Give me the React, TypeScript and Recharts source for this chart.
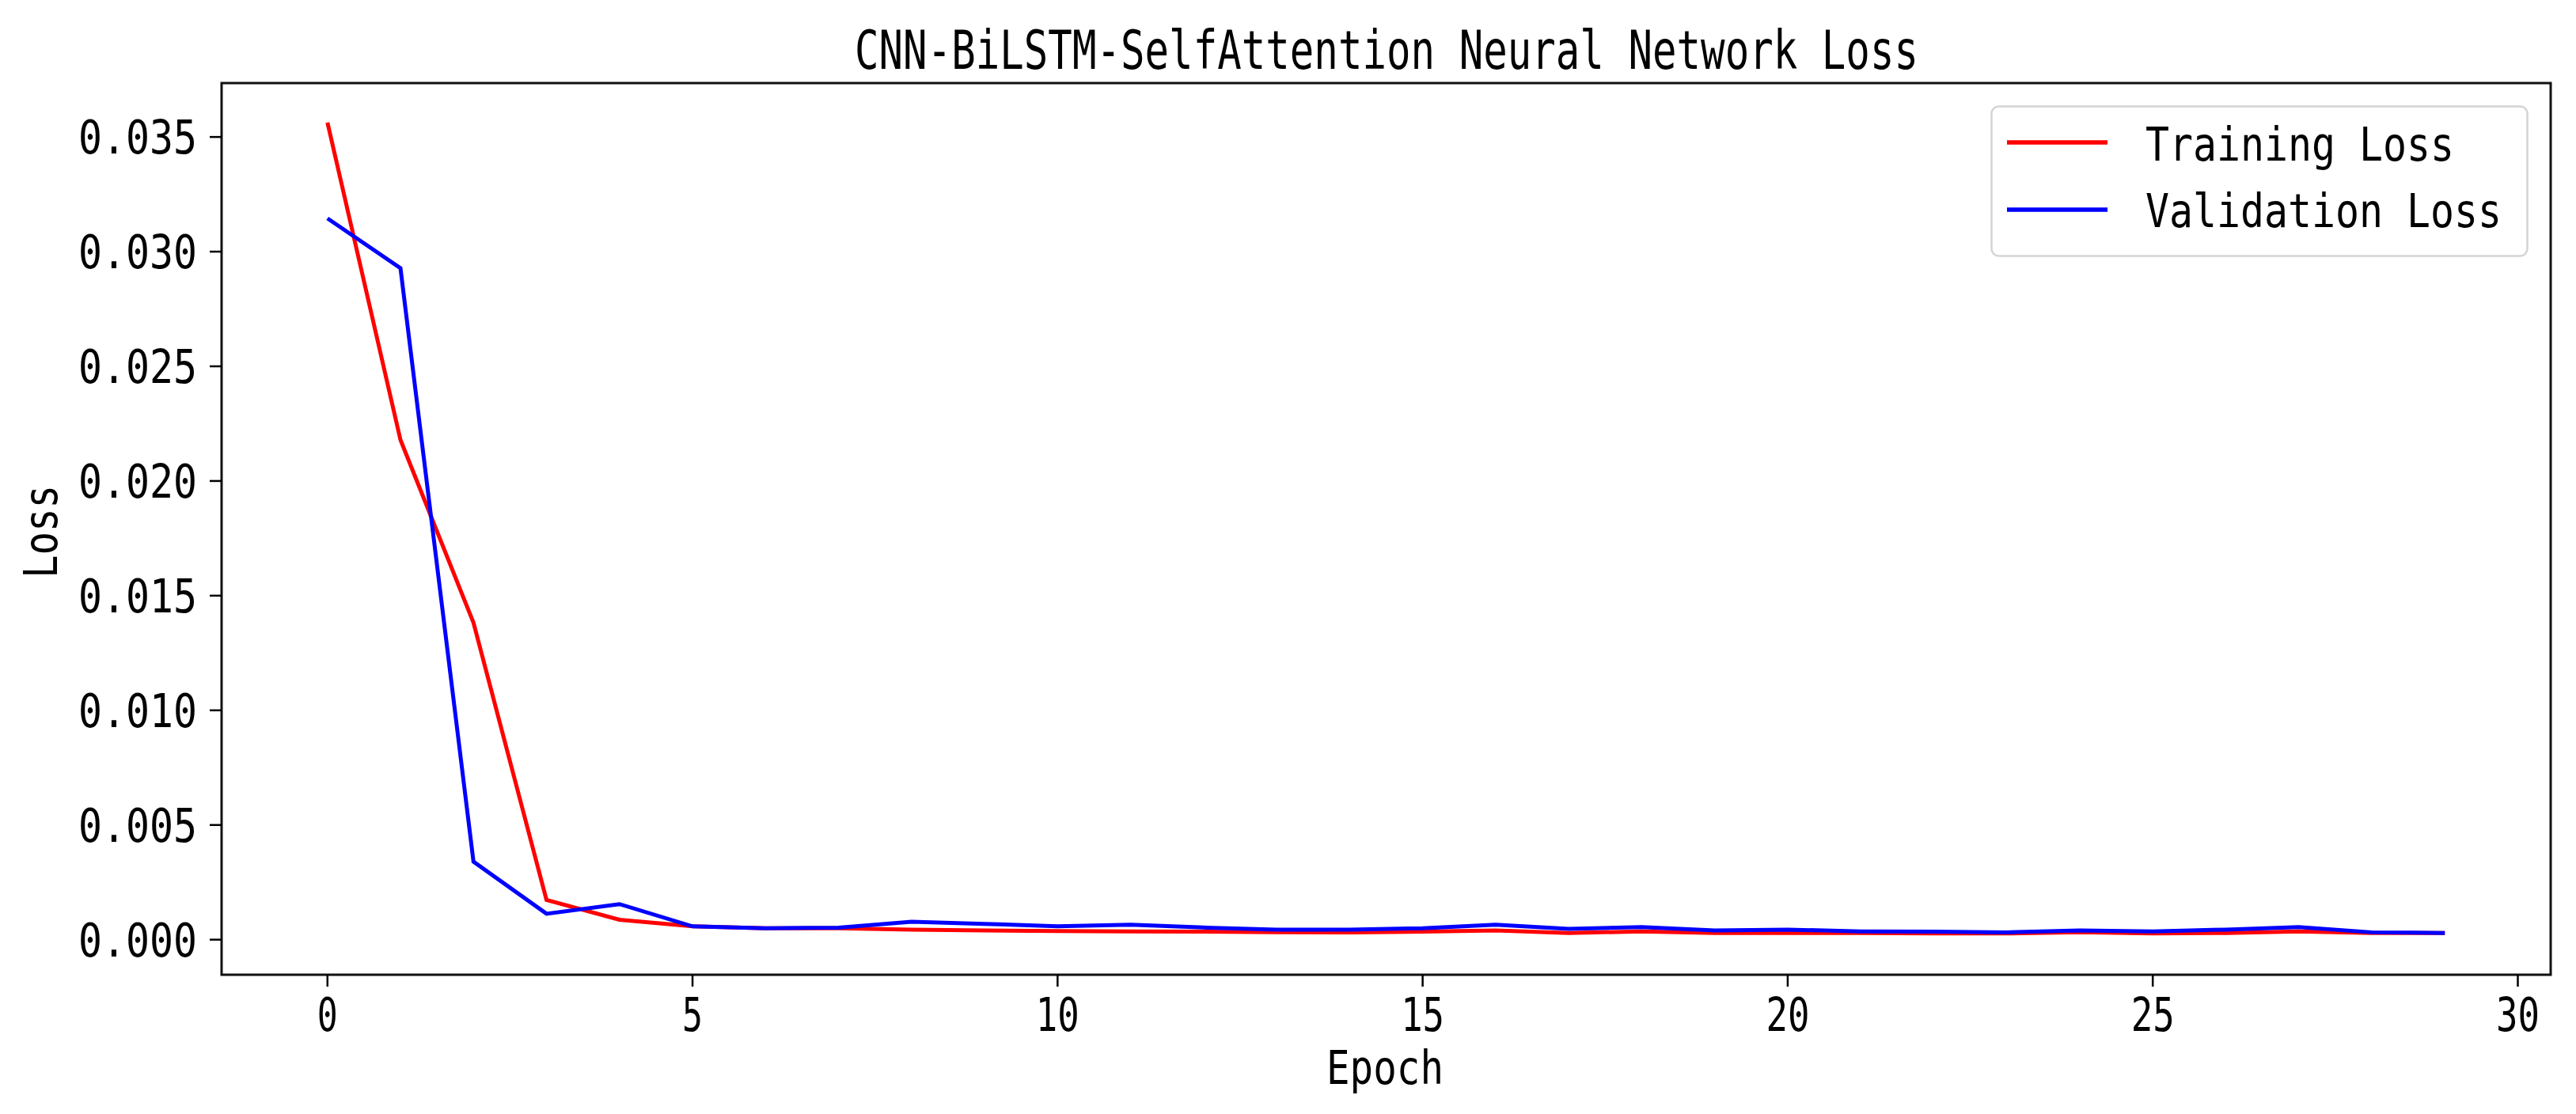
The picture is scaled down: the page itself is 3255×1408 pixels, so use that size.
import { LineChart, Line, XAxis, YAxis, ReferenceArea, Legend } from "recharts";

// values
const epochs = [0, 1, 2, 3, 4, 5, 6, 7, 8, 9, 10, 11, 12, 13, 14, 15, 16, 17, 18, 19, 20, 21, 22, 23, 24, 25, 26, 27, 28, 29];
const trainLoss = [
  0.03563, 0.02179, 0.01382, 0.00173, 0.00087, 0.00058, 0.0005, 0.0005, 0.00044, 0.0004,
  0.00038, 0.00036, 0.00035, 0.00032, 0.00032, 0.00035, 0.0004, 0.00029, 0.00036, 0.00029,
  0.00029, 0.00029, 0.00027, 0.00027, 0.00032, 0.00027, 0.00029, 0.00036, 0.00029, 0.00029,
];
const valLoss = [
  0.03145, 0.02928, 0.0034, 0.00113, 0.00155, 0.00058, 0.0005, 0.00052, 0.00078, 0.00069,
  0.00058, 0.00065, 0.00053, 0.00044, 0.00044, 0.0005, 0.00065, 0.00047, 0.00055, 0.0004,
  0.00044, 0.00036, 0.00035, 0.00032, 0.0004, 0.00036, 0.00044, 0.00055, 0.00032, 0.00029,
];
const xTicks = [0, 5, 10, 15, 20, 25, 30];
const yTicks = [0, 0.005, 0.01, 0.015, 0.02, 0.025, 0.03, 0.035];

const X_DOMAIN = [-1.45, 30.45];
const Y_DOMAIN = [-0.00153, 0.03735];

const FONT = "'DejaVu Sans Mono', monospace";
const CHAR_W = 29;

const data = epochs.map((e, i) => ({ epoch: e, train: trainLoss[i], val: valLoss[i] }));

function YTick(props: any) {
  const { x, y, payload } = props;
  const s = Number(payload.value).toFixed(3);
  return (
    <text x={x} y={y + 21} textAnchor="end" fontFamily={FONT} fontSize={59} fill="#000"
      textLength={150} lengthAdjust="spacingAndGlyphs">
      {s}
    </text>
  );
}

function XTick(props: any) {
  const { x, y, payload } = props;
  const s = String(payload.value);
  return (
    <text x={x} y={y + 43} textAnchor="middle" fontFamily={FONT} fontSize={59} fill="#000"
      textLength={s.length * CHAR_W - 3} lengthAdjust="spacingAndGlyphs">
      {s}
    </text>
  );
}

function LegendBox({ payload }: any) {
  // svg is wider than the frame so the text never gets clipped
  return (
    <svg width={740} height={192} style={{ display: "block", overflow: "visible" }}>
      <rect x={1.5} y={1.5} width={677} height={189} rx={9} fill="#fff" fillOpacity={0.8}
        stroke="#d4d4d4" strokeWidth={2.5} />
      {(payload || []).map((p: any, i: number) => (
        <g key={p.value}>
          <line x1={21} x2={148} y1={47 + i * 85} y2={47 + i * 85} stroke={p.color} strokeWidth={5.5} />
          <text x={196} y={70 + i * 84} fontFamily={FONT} fontSize={59} fill="#000"
            textLength={String(p.value).length * 30} lengthAdjust="spacingAndGlyphs">
            {p.value}
          </text>
        </g>
      ))}
    </svg>
  );
}

export default function App() {
  return (
    <div style={{ position: "absolute", left: 0, top: 0, width: 3255, height: 1408, background: "#fff" }}>
      <LineChart width={3255} height={1408} data={data}
        margin={{ top: 105, right: 32, bottom: 56, left: 40 }}>
        <XAxis dataKey="epoch" type="number" domain={X_DOMAIN} ticks={xTicks} allowDataOverflow
          height={120} axisLine={false} tickSize={15} tickMargin={13}
          tickLine={{ stroke: "#000", strokeWidth: 2.5 }} tick={<XTick />} interval={0} />
        <YAxis type="number" domain={Y_DOMAIN} ticks={yTicks} allowDataOverflow
          width={240} axisLine={false} tickSize={15} tickMargin={16}
          tickLine={{ stroke: "#000", strokeWidth: 2.5 }} tick={<YTick />} interval={0} />
        <ReferenceArea x1={X_DOMAIN[0]} x2={X_DOMAIN[1]} y1={Y_DOMAIN[0]} y2={Y_DOMAIN[1]}
          fill="none" fillOpacity={0} stroke="#111" strokeWidth={3} />
        <Line type="linear" dataKey="train" name="Training Loss" stroke="#ff0000" strokeWidth={5}
          dot={false} activeDot={false} isAnimationActive={false} />
        <Line type="linear" dataKey="val" name="Validation Loss" stroke="#0000ff" strokeWidth={5}
          dot={false} activeDot={false} isAnimationActive={false} />
        <Legend layout="vertical" align="center" verticalAlign="middle" content={<LegendBox />}
          wrapperStyle={{ position: "absolute", left: 2515, top: 133, width: 740, height: 192 }} />
      </LineChart>
      <svg width={3255} height={1408}
        style={{ position: "absolute", left: 0, top: 0, pointerEvents: "none" }}>
        <text x={1752} y={87} textAnchor="middle" fontFamily={FONT} fontSize={67} fill="#000"
          textLength={1344} lengthAdjust="spacingAndGlyphs">
          CNN-BiLSTM-SelfAttention Neural Network Loss
        </text>
        <text x={1750} y={1370} textAnchor="middle" fontFamily={FONT} fontSize={59} fill="#000"
          textLength={148} lengthAdjust="spacingAndGlyphs">
          Epoch
        </text>
        <text x={72} y={672} textAnchor="middle" fontFamily={FONT} fontSize={59} fill="#000"
          textLength={118} lengthAdjust="spacingAndGlyphs" transform="rotate(-90 72 672)">
          Loss
        </text>
      </svg>
    </div>
  );
}
